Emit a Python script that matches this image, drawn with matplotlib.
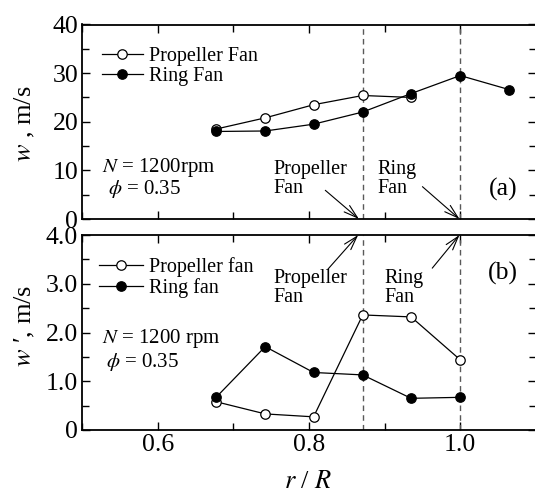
import matplotlib
matplotlib.use("Agg")
import matplotlib.pyplot as plt
from matplotlib.ticker import FixedLocator, MultipleLocator, FuncFormatter

plt.rcParams['font.family'] = ['Liberation Serif', 'DejaVu Serif']
plt.rcParams['mathtext.fontset'] = 'stix'

# radial measuring positions r/R
r_R = [0.677, 0.742, 0.806, 0.871, 0.935, 1.000, 1.065]

# mean axial velocity w (m/s)
w_prop = [18.5, 20.8, 23.5, 25.4, 25.0]
w_ring = [18.0, 18.1, 19.5, 22.0, 25.8, 29.5, 26.6]

# velocity fluctuation w' (m/s)
wp_prop = [0.58, 0.33, 0.27, 2.36, 2.32, 1.44]
wp_ring = [0.67, 1.71, 1.18, 1.13, 0.65, 0.67]

# blade tip radii of both fans
tip_prop = 0.871
tip_ring = 1.0

W, H = 535, 492
fig = plt.figure(figsize=(W / 100, H / 100), dpi=100)
ax1 = fig.add_axes([82.3 / W, 273 / H, 453.5 / W, 194.5 / H])
ax2 = fig.add_axes([82.3 / W, 62 / H, 453.5 / W, 195 / H])

line_kw = dict(color='k', lw=0.9, ms=6.8, mew=0.9, mec='k')
arrow_kw = dict(arrowstyle='->,head_length=1.0,head_width=0.3',
                lw=0.8, color='k', shrinkA=0, shrinkB=0)


def style_axes(ax, ymax, ymajor, fmt):
    ax.set_xlim(0.5, 1.1)
    ax.set_ylim(0, ymax)
    ax.xaxis.set_major_locator(FixedLocator([0.6, 0.8, 1.0]))
    ax.xaxis.set_minor_locator(FixedLocator([0.5, 0.7, 0.9, 1.1]))
    ax.yaxis.set_major_locator(MultipleLocator(ymajor))
    ax.yaxis.set_minor_locator(MultipleLocator(ymajor / 2))
    ax.yaxis.set_major_formatter(FuncFormatter(fmt))
    ax.tick_params(which='both', direction='in', top=True, right=True,
                   width=1.0, labelsize=18.5)
    ax.tick_params(which='major', length=6, pad=3)
    ax.tick_params(which='minor', length=5)
    for s in ax.spines.values():
        s.set_linewidth(1.3)
    for xv in (tip_prop, tip_ring):
        ax.axvline(xv, color='0.35', lw=1.0, dashes=(4, 3))


# --- (a) mean velocity ---
style_axes(ax1, 40, 10, lambda v, p: f'{v:.0f}')
ax1.tick_params(axis='x', labelbottom=False)
ax1.plot(r_R[:len(w_prop)], w_prop, '-o', mfc='white', label='Propeller Fan', **line_kw)
ax1.plot(r_R[:len(w_ring)], w_ring, '-o', mfc='k', label='Ring Fan', **line_kw)
ax1.legend(loc='upper left', bbox_to_anchor=(0.043, 0.884), frameon=False,
           fontsize=14.5, handlelength=2.05, handletextpad=0.3,
           labelspacing=0.05, borderpad=0, borderaxespad=0)
ax1.text(0.5257, 10.6, '$N$ = 1200rpm', fontsize=15, va='center', ha='left')
ax1.text(0.534, 6.2, r'$\phi$ = 0.35', fontsize=15, va='center', ha='left')
ax1.text(0.7527, 12.2, 'Propeller\nFan', fontsize=14.5, va='top', ha='left', linespacing=1.0)
ax1.text(0.890, 12.2, 'Ring\nFan', fontsize=14.5, va='top', ha='left', linespacing=1.0)
ax1.annotate('', xy=(tip_prop - 0.005, 0), xytext=(0.8215, 5.9), arrowprops=arrow_kw)
ax1.annotate('', xy=(tip_ring - 0.001, 0), xytext=(0.950, 6.65), arrowprops=arrow_kw)
ax1.text(1.057, 6.0, '(a)', fontsize=18.5, va='center', ha='center')

# --- (b) velocity fluctuation ---
style_axes(ax2, 4.0, 1.0, lambda v, p: '0' if v == 0 else f'{v:.1f}')
ax2.plot(r_R[:len(wp_prop)], wp_prop, '-o', mfc='white', label='Propeller fan', **line_kw)
ax2.plot(r_R[:len(wp_ring)], wp_ring, '-o', mfc='k', label='Ring fan', **line_kw)
ax2.legend(loc='upper left', bbox_to_anchor=(0.037, 0.887), frameon=False,
           fontsize=14.5, handlelength=2.2, handletextpad=0.3,
           labelspacing=0.05, borderpad=0, borderaxespad=0)
ax2.text(0.5257, 1.88, '$N$ = 1200 rpm', fontsize=15, va='center', ha='left')
ax2.text(0.532, 1.40, r'$\phi$ = 0.35', fontsize=15, va='center', ha='left')
ax2.text(0.753, 3.30, 'Propeller\nFan', fontsize=14.5, va='top', ha='left', linespacing=1.0)
ax2.text(0.8996, 3.30, 'Ring\nFan', fontsize=14.5, va='top', ha='left', linespacing=1.0)
ax2.annotate('', xy=(tip_prop - 0.006, 4.0), xytext=(0.825, 3.30), arrowprops=arrow_kw)
ax2.annotate('', xy=(tip_ring - 0.001, 4.0), xytext=(0.963, 3.32), arrowprops=arrow_kw)
ax2.text(1.057, 3.21, '(b)', fontsize=18.5, va='center', ha='center')

# axis labels
fig.text(25 / W, 1 - 124 / H, '$w$ , m/s', rotation=90, fontsize=19,
         ha='center', va='center')
fig.text(25 / W, 1 - 326 / H, "$w$ \u2032, m/s", rotation=90, fontsize=19,
         ha='center', va='center')
fig.text(308 / W, 4 / H, '$r$ / $R$', fontsize=19, ha='center', va='baseline')

fig.savefig('out.png', dpi=100)
